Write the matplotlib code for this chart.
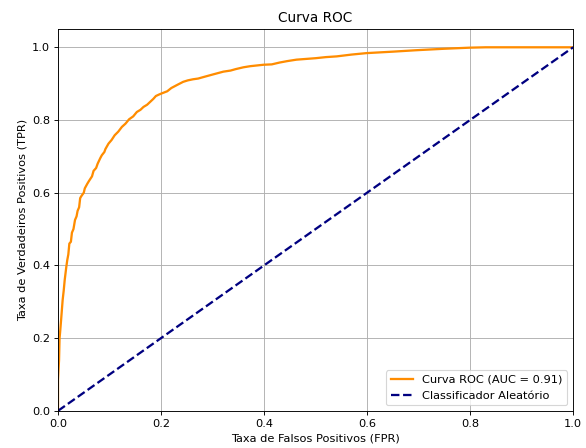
import numpy as np
import matplotlib
matplotlib.use('Agg')
import matplotlib.pyplot as plt

# pontos da curva ROC
fpr = [0.0, 0.0, 0.002, 0.003, 0.004, 0.006, 0.009, 0.011, 0.013, 0.016, 0.018,
       0.020, 0.022, 0.025, 0.027, 0.030, 0.033, 0.036, 0.038, 0.041, 0.043,
       0.045, 0.050, 0.052, 0.057, 0.060, 0.066, 0.069, 0.074, 0.077, 0.082,
       0.085, 0.090, 0.092, 0.098, 0.104, 0.110, 0.117, 0.124, 0.131, 0.138,
       0.146, 0.153, 0.160, 0.166, 0.173, 0.179, 0.185, 0.190, 0.196, 0.201,
       0.212, 0.220, 0.232, 0.243, 0.252, 0.262, 0.272, 0.282, 0.300, 0.321,
       0.335, 0.345, 0.360, 0.373, 0.399, 0.415, 0.430, 0.445, 0.463, 0.500,
       0.520, 0.541, 0.570, 0.599, 0.650, 0.696, 0.750, 0.800, 0.830, 0.900, 1.0]
tpr = [0.0, 0.085, 0.14, 0.20, 0.215, 0.25, 0.305, 0.33, 0.36, 0.395, 0.415,
       0.43, 0.46, 0.465, 0.49, 0.50, 0.525, 0.535, 0.55, 0.56, 0.585,
       0.59, 0.60, 0.612, 0.625, 0.632, 0.645, 0.66, 0.668, 0.68, 0.695,
       0.703, 0.712, 0.72, 0.735, 0.745, 0.758, 0.768, 0.781, 0.79, 0.802,
       0.81, 0.822, 0.828, 0.836, 0.842, 0.85, 0.858, 0.866, 0.870, 0.873,
       0.879, 0.888, 0.897, 0.905, 0.909, 0.912, 0.914, 0.918, 0.925, 0.933,
       0.936, 0.940, 0.945, 0.948, 0.952, 0.953, 0.958, 0.962, 0.966, 0.970,
       0.973, 0.975, 0.980, 0.984, 0.988, 0.992, 0.996, 0.999, 1.0, 1.0, 1.0]
auc = 0.91

# imagem original reduzida: equivale a dpi ~82 com tamanhos padrão
DPI = 82
fig, ax = plt.subplots(figsize=(586 / DPI, 448 / DPI), dpi=DPI)
ax.plot(fpr, tpr, color='darkorange', lw=2, label=f'Curva ROC (AUC = {auc:.2f})')
ax.plot([0, 1], [0, 1], color='navy', lw=2, linestyle='--', label='Classificador Aleatório')
ax.set_xlim([0.0, 1.0])
ax.set_ylim([0.0, 1.05])
ax.set_xlabel('Taxa de Falsos Positivos (FPR)')
ax.set_ylabel('Taxa de Verdadeiros Positivos (TPR)')
ax.set_title('Curva ROC')
ax.legend(loc='lower right')
ax.grid(True)
fig.subplots_adjust(left=0.099, right=0.978, top=0.935, bottom=0.083)
plt.savefig('out.png', dpi=DPI)
